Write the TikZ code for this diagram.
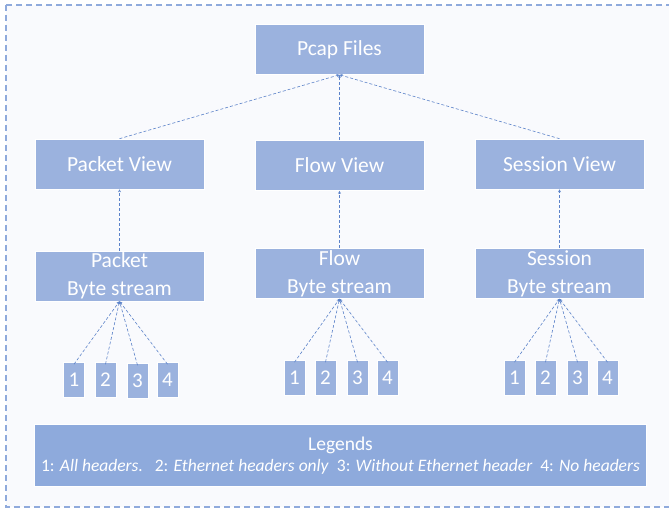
\documentclass[tikz,border=0pt]{standalone}
\usepackage{fontspec}
\setmainfont{Carlito}
\usetikzlibrary{arrows.meta}
\definecolor{boxfill}{HTML}{9BB2DE}
\definecolor{legfill}{HTML}{8EAADC}
\definecolor{frameblue}{HTML}{8FAADC}
\definecolor{linkblue}{HTML}{5B82C9}
\definecolor{bgpale}{HTML}{F9FAFD}
\tikzset{
  x=1pt, y=-1pt,
  bigbox/.style={draw=white, line width=0.6pt, fill=boxfill, text=white, minimum width=169pt, minimum height=50pt, inner sep=0pt, align=center, font=\fontsize{21.5}{27}\selectfont},
  numbox/.style={draw=white, line width=0.6pt, fill=boxfill, text=white, minimum width=21pt, minimum height=35pt, inner sep=0pt, font=\fontsize{21}{22}\selectfont},
  link/.style={draw=linkblue, dashed, line width=0.6pt, dash pattern=on 3pt off 2pt, -{Stealth[length=3pt,width=3pt]}},
}
\begin{document}
\begin{tikzpicture}
\useasboundingbox (0,0) rectangle (669,510);
\fill[white] (0,0) rectangle (669,510);
\fill[bgpale] (6,5) rectangle (672,507);
\draw[frameblue, line width=1.3pt, dash pattern=on 6pt off 4pt] (6,5) -- (672,5) (6,5) -- (6,507) -- (672,507);

\node[bigbox] (pcap) at (339.5,49.5) {Pcap Files};
\node[bigbox] (pv) at (119.5,164) {Packet View};
\node[bigbox] (fv) at (339.5,165.5) {Flow View};
\node[bigbox] (sv) at (559.5,164) {Session View};
\node[bigbox, font=\fontsize{21.5}{28}\selectfont] (pb) at (119.5,276) {Packet\\Byte stream};
\node[bigbox, font=\fontsize{21.5}{28}\selectfont] (fb) at (339.5,273.5) {Flow\\Byte stream};
\node[bigbox, font=\fontsize{21.5}{28}\selectfont] (sb) at (559.5,273.5) {Session\\Byte stream};

\node[numbox] (p1) at (74,380) {1};
\node[numbox] (p2) at (105.5,380) {2};
\node[numbox] (p3) at (137.5,381) {3};
\node[numbox] (p4) at (167.5,380) {4};
\node[numbox] (f1) at (294.5,378) {1};
\node[numbox] (f2) at (325.5,378) {2};
\node[numbox] (f3) at (357.5,378) {3};
\node[numbox] (f4) at (387.5,378) {4};
\node[numbox] (s1) at (514.5,378) {1};
\node[numbox] (s2) at (545.5,378) {2};
\node[numbox] (s3) at (577.5,378) {3};
\node[numbox] (s4) at (607.5,378) {4};

\node[draw=white, line width=0.6pt, fill=legfill, text=white, minimum width=612pt, minimum height=62pt, inner sep=0pt, align=center] (leg) at (340.5,455.5)
  {{\fontsize{19.5}{22}\selectfont Legends}\\[5pt]
   {\fontsize{17.5}{20}\selectfont 1: \textit{All headers.}\ \ \ 2: \textit{Ethernet headers only}\ \ 3: \textit{Without Ethernet header}\ \ 4: \textit{No headers}}};

\draw[link] (pv.north) -- (pcap.south);
\draw[link] (fv.north) -- (pcap.south);
\draw[link] (sv.north) -- (pcap.south);
\draw[link] (pb.north) -- (pv.south);
\draw[link] (fb.north) -- (fv.south);
\draw[link] (sb.north) -- (sv.south);
\foreach \a in {p1,p2,p3,p4} \draw[link] ([yshift=-2pt]\a.north) -- (pb.south);
\foreach \a in {f1,f2,f3,f4} \draw[link] ([yshift=-2pt]\a.north) -- (fb.south);
\foreach \a in {s1,s2,s3,s4} \draw[link] ([yshift=-2pt]\a.north) -- (sb.south);
\end{tikzpicture}
\end{document}
